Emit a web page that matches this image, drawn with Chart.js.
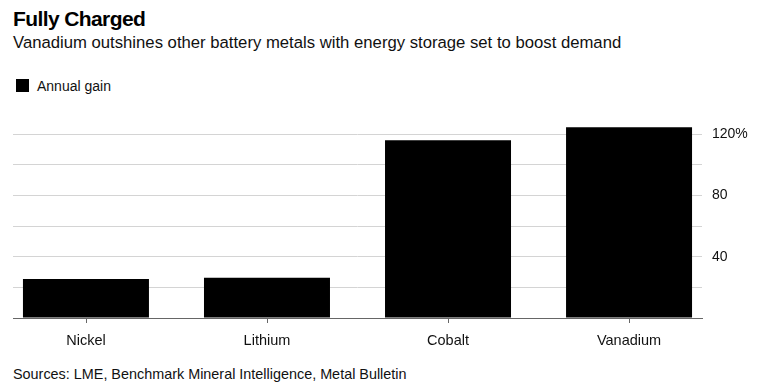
<!DOCTYPE html>
<html>
<head>
<meta charset="utf-8">
<script src="https://cdn.jsdelivr.net/npm/chart.js@4/dist/chart.umd.min.js"></script>
<style>
  html, body { margin: 0; padding: 0; background: #fff; }
  body { width: 761px; height: 388px; position: relative; overflow: hidden;
         font-family: "Liberation Sans", Arial, sans-serif; color: #000; }
  .t { position: absolute; white-space: nowrap; line-height: 1; }
  #title { left: 13px; top: 8px; font-size: 21px; font-weight: bold; letter-spacing: -0.6px; }
  #subtitle { left: 13px; top: 34.5px; font-size: 16.7px; color: #111; }
  #legend-box { position: absolute; left: 16px; top: 79px; width: 13px; height: 13px; background: #000; }
  #legend-text { left: 37px; top: 79px; font-size: 14px; color: #111; }
  #source { left: 13px; top: 367px; font-size: 14.4px; color: #111; }
  #wrap { position: absolute; left: 0; top: 0; width: 761px; height: 388px; }
</style>
</head>
<body>
<div id="title" class="t">Fully Charged</div>
<div id="subtitle" class="t">Vanadium outshines other battery metals with energy storage set to boost demand</div>
<div id="legend-box"></div>
<div id="legend-text" class="t">Annual gain</div>
<div id="source" class="t">Sources: LME, Benchmark Mineral Intelligence, Metal Bulletin</div>
<div id="wrap"><canvas id="c" width="761" height="388"></canvas></div>
<script>
const categories = ["Nickel", "Lithium", "Cobalt", "Vanadium"];
const seriesName = "Annual gain";
const annualGain = [25.5, 26.3, 116, 124.6];
const yTicks = [0, 20, 40, 60, 80, 100, 120];
const yLabeled = [40, 80, 120];

const points = categories.map((c, i) => ({ x: i, y: annualGain[i] }));

new Chart(document.getElementById('c'), {
  type: 'bar',
  data: {
    datasets: [{
      label: seriesName,
      data: points,
      backgroundColor: '#000',
      borderWidth: 0,
      categoryPercentage: 1.0,
      barPercentage: 0.696
    }]
  },
  options: {
    responsive: false,
    animation: false,
    devicePixelRatio: 1,
    layout: { padding: { left: 13, right: 0, top: 125, bottom: 30 } },
    plugins: { legend: { display: false }, tooltip: { enabled: false }, title: { display: false } },
    scales: {
      x: {
        type: 'linear',
        min: -0.403, max: 3.403,
        offset: false,
        afterBuildTicks: (s) => { s.ticks = categories.map((c, i) => ({ value: i })); },
        grid: { display: false, drawTicks: true },
        border: { display: true, color: '#666', width: 1 },
        ticks: {
          color: '#111', font: { family: 'Liberation Sans', size: 14.5 },
          padding: 6,
          callback: (v) => categories[v] ?? ''
        },
        afterFit: (s) => { s.height = 40; }
      },
      y: {
        position: 'right',
        min: 0, max: 126,
        afterBuildTicks: (s) => { s.ticks = yTicks.map(v => ({ value: v })); },
        grid: { color: '#d4d4d4', lineWidth: 1, drawTicks: false },
        border: { display: false },
        ticks: {
          color: '#111', font: { family: 'Liberation Sans', size: 14 },
          padding: 10,
          callback: (v) => yLabeled.includes(v) ? (v === 120 ? v + '%' : String(v)) : ''
        },
        afterFit: (s) => { s.width = 59; }
      }
    }
  },
  plugins: [{
    id: 'xTickMarks',
    afterDatasetsDraw(chart) {
      const { ctx, scales: { x, y } } = chart;
      ctx.save();
      ctx.strokeStyle = '#666';
      ctx.lineWidth = 1;
      categories.forEach((c, i) => {
        const px = Math.round(x.getPixelForValue(i)) + 0.5;
        const py = y.getPixelForValue(0);
        ctx.beginPath();
        ctx.moveTo(px, py);
        ctx.lineTo(px, py + 5);
        ctx.stroke();
      });
      ctx.restore();
    }
  }]
});
</script>
</body>
</html>
